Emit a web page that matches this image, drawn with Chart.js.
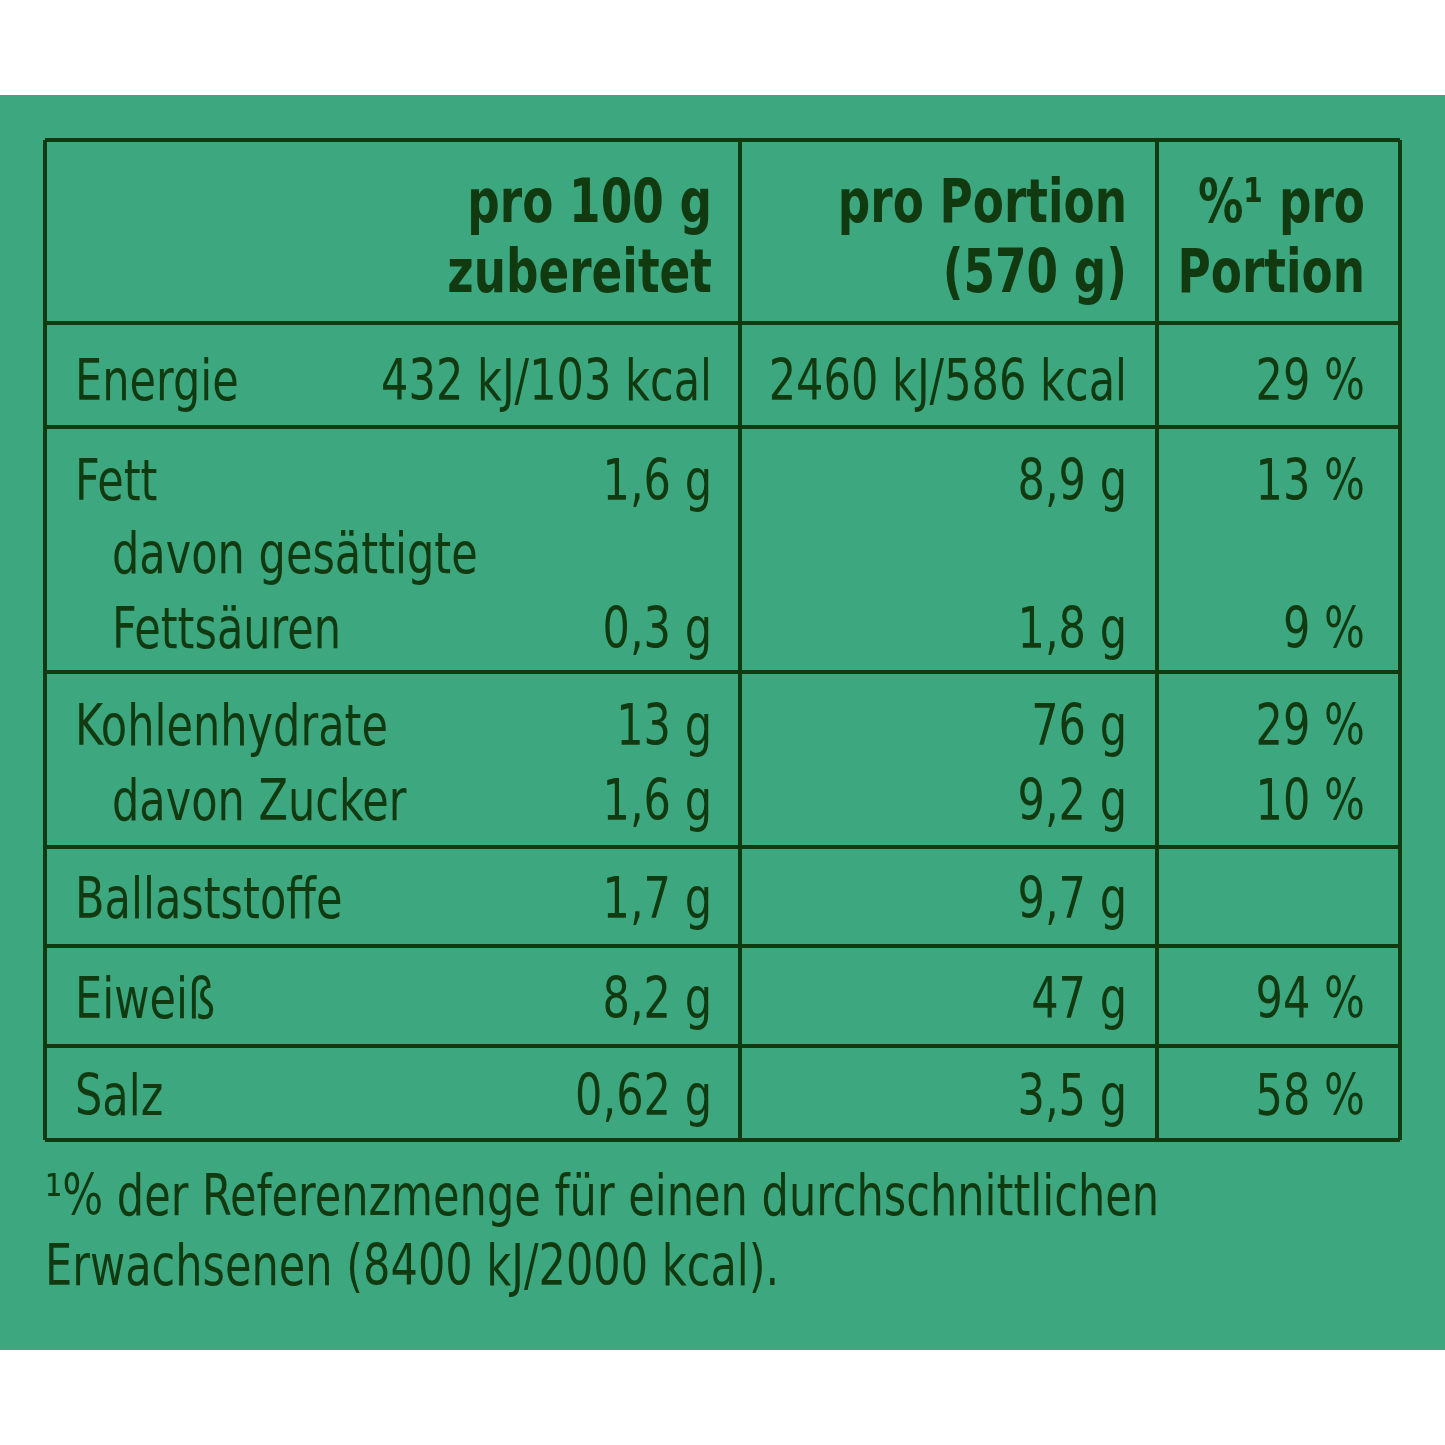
<!DOCTYPE html>
<html><head><meta charset="utf-8">
<script src="https://cdn.jsdelivr.net/npm/chart.js@4"></script>
<style>html,body{margin:0;background:#fff}#wrap{width:1445px;height:1445px}</style>
</head><body><div id="wrap"><canvas id="c"></canvas></div>
<script>
const headers = [["pro 100 g", "zubereitet"], ["pro Portion", "(570 g)"], ["%¹ pro", "Portion"]];
const labels = ["Energie", "Fett", "davon gesättigte", "Fettsäuren", "Kohlenhydrate", "davon Zucker", "Ballaststoffe", "Eiweiß", "Salz"];
const indented = [false, false, true, true, false, true, false, false, false];
const per100 = ["432 kJ/103 kcal", "1,6 g", "", "0,3 g", "13 g", "1,6 g", "1,7 g", "8,2 g", "0,62 g"];
const perPortion = ["2460 kJ/586 kcal", "8,9 g", "", "1,8 g", "76 g", "9,2 g", "9,7 g", "47 g", "3,5 g"];
const percent = ["29 %", "13 %", "", "9 %", "29 %", "10 %", "", "94 %", "58 %"];
const footnote = ["¹% der Referenzmenge für einen durchschnittlichen", "Erwachsenen (8400 kJ/2000 kcal)."];

// layout in page units
const rowBase = [400, 500, 573, 648, 745, 820, 918, 1018, 1115];
const hLines = [140, 323, 427, 672, 847, 946, 1046, 1140];
const vLines = [45, 740, 1157, 1400];
const colRight = [712, 1127, 1365];
const ink = "#123a10";
const font = "'DejaVu Sans Condensed', sans-serif";
const squeeze = 0.84;

function text(ctx, s, x, y, align) {
  ctx.save();
  ctx.translate(x, y);
  ctx.scale(squeeze, 1);
  ctx.textAlign = align;
  ctx.fillText(s, 0, 0);
  ctx.restore();
}

const tablePlugin = {
  id: "table",
  beforeDraw(chart) {
    const {ctx, scales: {x, y}} = chart;
    const X = v => x.getPixelForValue(v), Y = v => y.getPixelForValue(v);
    ctx.save();
    ctx.fillStyle = "#3da77f";
    ctx.fillRect(X(0), Y(95), X(1445) - X(0), Y(1350) - Y(95));
    ctx.strokeStyle = ink; ctx.lineWidth = 4;
    hLines.forEach(h => { ctx.beginPath(); ctx.moveTo(X(vLines[0]), Y(h)); ctx.lineTo(X(vLines[3]), Y(h)); ctx.stroke(); });
    vLines.forEach(v => { ctx.beginPath(); ctx.moveTo(X(v), Y(140)); ctx.lineTo(X(v), Y(1140)); ctx.stroke(); });
    ctx.fillStyle = ink;
    ctx.font = "bold 60px " + font;
    headers.forEach((hd, i) => {
      text(ctx, hd[0], X(colRight[i]), Y(222), "right");
      text(ctx, hd[1], X(colRight[i]), Y(292), "right");
    });
    ctx.font = "57px " + font;
    labels.forEach((l, i) => {
      const b = Y(rowBase[i]);
      text(ctx, l, X(indented[i] ? 112 : 75), b, "left");
      text(ctx, per100[i], X(colRight[0]), b, "right");
      text(ctx, perPortion[i], X(colRight[1]), b, "right");
      text(ctx, percent[i], X(colRight[2]), b, "right");
    });
    text(ctx, footnote[0], X(45), Y(1215), "left");
    text(ctx, footnote[1], X(45), Y(1285), "left");
    ctx.restore();
  }
};

new Chart(document.getElementById("c"), {
  type: "scatter",
  data: { datasets: [{ data: [] }] },
  options: {
    responsive: true, maintainAspectRatio: false, animation: false,
    layout: { padding: 0 },
    plugins: { legend: { display: false }, tooltip: { enabled: false } },
    scales: {
      x: { type: "linear", min: 0, max: 1445, display: false },
      y: { type: "linear", min: 0, max: 1445, reverse: true, display: false }
    }
  },
  plugins: [tablePlugin]
});
</script></body></html>
